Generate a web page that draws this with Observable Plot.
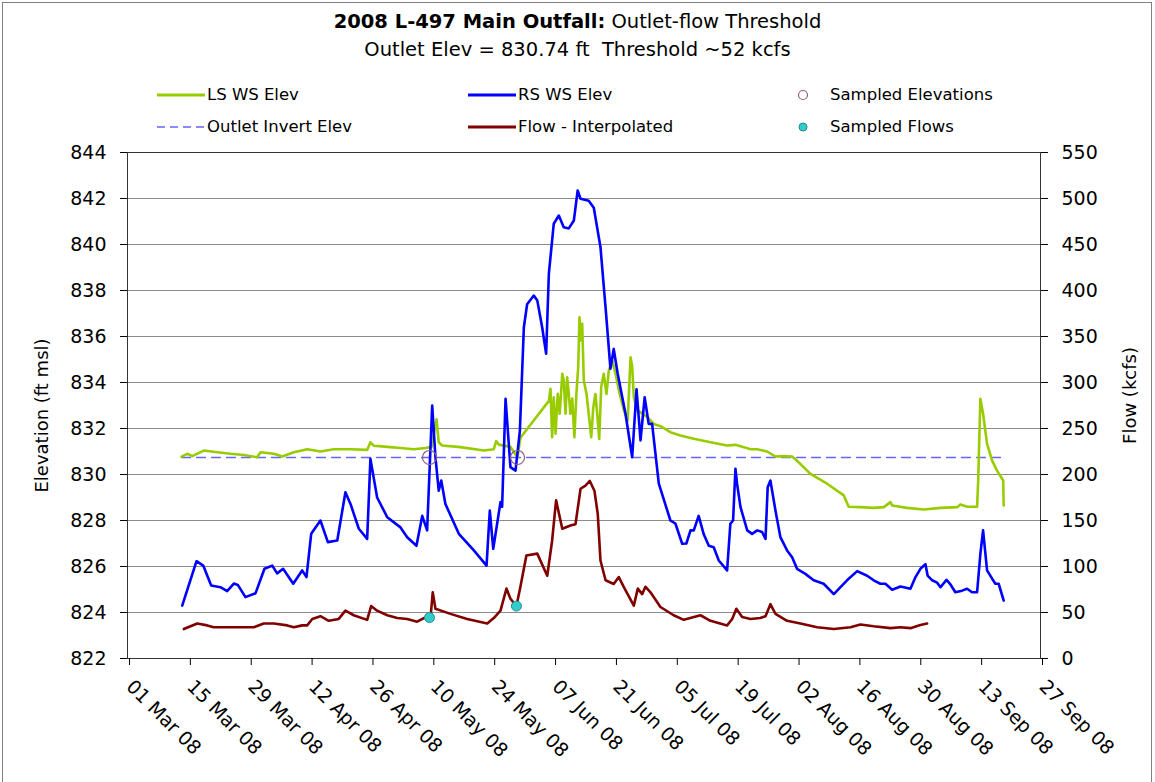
<!DOCTYPE html>
<html><head><meta charset="utf-8">
<script src="https://cdn.jsdelivr.net/npm/d3@7"></script>
<script src="https://cdn.jsdelivr.net/npm/@observablehq/plot@0.6"></script>
<style>
html,body{margin:0;padding:0;background:#fff;}
body{width:1155px;height:782px;position:relative;overflow:hidden;font-family:"DejaVu Sans",sans-serif;color:#000;}
#border{position:absolute;left:2px;top:2px;width:1150px;height:790px;border:1px solid #808080;box-sizing:border-box;}
#title{position:absolute;left:0;width:1155px;top:8px;text-align:center;font-size:19.5px;line-height:28px;}
.leg{position:absolute;font-size:16.5px;line-height:20px;height:20px;white-space:nowrap;}
.leg svg{position:absolute;left:0;top:0;}
.leg span{position:absolute;top:0;}
#chart{position:absolute;left:0;top:140px;}
</style></head>
<body>
<div id="border"></div>
<div id="title"><b>2008 L-497 Main Outfall:</b> Outlet-flow Threshold<br>Outlet Elev = 830.74 ft&nbsp; Threshold ~52 kcfs</div>
<div id="legend"></div>
<div id="chart"></div>
<script>
// ---- data ----
const yTicks = [822, 824, 826, 828, 830, 832, 834, 836, 838, 840, 842, 844];
const flowTicks = [0, 50, 100, 150, 200, 250, 300, 350, 400, 450, 500, 550];
const xTicks = ["03-01","03-15","03-29","04-12","04-26","05-10","05-24","06-07","06-21","07-05","07-19","08-02","08-16","08-30","09-13","09-27"];
const outletInvert = [["03-13 10",830.74],["09-18 13",830.74]];

const lsElev = [["03-13 10",830.78],["03-14 18",830.9],["03-15 21",830.8],["03-18 13",831.04],["03-21 15",830.97],["03-24 17",830.9],["03-27 18",830.85],["03-30 20",830.75],["03-31 14",830.97],["04-03 16",830.9],["04-05 14",830.78],["04-08 06",830.97],["04-11 08",831.1],["04-14 09",831.0],["04-17 11",831.1],["04-21 07",831.1],["04-25 03",831.07],["04-25 21",831.4],["04-26 16",831.25],["04-29 18",831.2],["05-02 19",831.15],["05-05 20",831.1],["05-08 13",831.15],["05-09 22",831.2],["05-11 02",832.4],["05-11 14",831.4],["05-12 09",831.26],["05-16 14",831.19],["05-21 23",831.04],["05-24 06",831.1],["05-24 19",831.45],["05-25 10",831.3],["05-28 02",831.2],["05-29 17",830.75],["05-30 09",831.6],["06-05 22",833.2],["06-06 07",833.73],["06-06 16",831.62],["06-07 01",833.36],["06-07 11",831.77],["06-07 23",833.51],["06-08 10",832.64],["06-09 00",834.38],["06-09 08",834.1],["06-09 18",832.64],["06-10 03",834.23],["06-10 12",833.5],["06-10 21",832.64],["06-11 07",833.3],["06-11 19",831.62],["06-12 06",833.5],["06-12 16",834.67],["06-12 23",836.84],["06-13 06",835.83],["06-13 14",836.55],["06-13 23",834.09],["06-14 14",833.5],["06-15 02",832.64],["06-15 16",831.62],["06-16 03",832.9],["06-16 15",833.5],["06-17 01",832.64],["06-17 12",831.55],["06-17 23",833.8],["06-18 13",834.38],["06-19 04",833.5],["06-19 17",834.52],["06-20 12",834.96],["06-21 06",834.38],["06-22 05",833.5],["06-23 04",832.8],["06-24 01",832.35],["06-24 17",835.1],["06-25 02",834.7],["06-25 11",833.36],["06-26 06",832.8],["06-27 00",832.7],["06-28 13",832.5],["06-30 01",832.2],["07-01 14",832.1],["07-03 21",831.84],["07-06 04",831.7],["07-09 06",831.55],["07-13 02",831.4],["07-16 22",831.26],["07-18 20",831.29],["07-20 18",831.19],["07-22 07",831.1],["07-23 20",831.1],["07-26 03",831.0],["07-28 01",830.78],["07-29 23",830.8],["07-31 21",830.78],["08-02 00",830.6],["08-05 02",830.03],["08-08 22",829.6],["08-12 18",829.09],["08-13 21",828.6],["08-16 14",828.58],["08-19 15",828.55],["08-21 23",828.58],["08-23 12",828.8],["08-23 21",828.65],["08-27 08",828.55],["08-31 03",828.48],["09-04 00",828.55],["09-07 20",828.58],["09-08 14",828.7],["09-10 03",828.6],["09-12 10",828.6],["09-12 16",829.74],["09-13 04",833.29],["09-13 19",832.64],["09-14 17",831.33],["09-15 21",830.6],["09-17 00",830.17],["09-18 10",829.74],["09-18 13",828.65]];

const rsElev = [["03-13 14",824.3],["03-16 21",826.23],["03-18 10",826.04],["03-20 06",825.17],["03-22 09",825.1],["03-23 22",824.93],["03-25 11",825.26],["03-26 09",825.2],["03-28 03",824.67],["03-30 11",824.84],["04-01 12",825.9],["04-03 07",826.04],["04-04 10",825.7],["04-05 19",825.9],["04-08 03",825.25],["04-10 04",825.83],["04-11 04",825.54],["04-12 06",827.42],["04-14 09",828.0],["04-16 02",827.06],["04-18 06",827.13],["04-20 03",829.23],["04-21 07",828.72],["04-23 05",827.64],["04-25 03",827.2],["04-25 21",830.68],["04-27 10",829.0],["04-29 18",828.14],["05-02 19",827.7],["05-04 08",827.27],["05-06 11",826.9],["05-07 19",828.2],["05-08 22",827.57],["05-10 02",833.0],["05-10 20",830.75],["05-11 14",829.3],["05-12 04",829.74],["05-13 03",828.72],["05-16 05",827.42],["05-19 16",826.7],["05-22 14",826.04],["05-23 08",828.43],["05-24 03",826.77],["05-25 19",828.8],["05-26 04",828.6],["05-26 23",833.29],["05-28 02",830.32],["05-29 06",830.17],["05-30 06",831.9],["05-31 04",836.4],["05-31 22",837.4],["06-02 11",837.78],["06-03 06",837.57],["06-04 09",836.4],["06-05 07",835.25],["06-05 22",838.73],["06-07 01",840.9],["06-08 05",841.26],["06-09 08",840.75],["06-10 12",840.7],["06-11 16",841.04],["06-12 13",842.35],["06-13 05",841.99],["06-15 02",841.9],["06-16 06",841.6],["06-17 19",839.88],["06-18 23",837.27],["06-20 02",834.6],["06-20 20",835.46],["06-21 18",834.38],["06-23 13",832.64],["06-25 02",830.75],["06-26 02",833.7],["06-27 00",831.48],["06-27 23",833.36],["06-28 21",832.2],["06-29 16",832.2],["07-01 05",829.6],["07-03 21",828.0],["07-05 01",827.86],["07-06 14",826.99],["07-07 13",827.0],["07-08 12",827.57],["07-09 06",827.57],["07-10 09",828.2],["07-11 13",827.4],["07-12 17",826.9],["07-13 20",826.84],["07-15 00",826.26],["07-16 22",825.83],["07-17 16",827.86],["07-18 07",828.0],["07-18 20",830.25],["07-19 05",829.6],["07-20 00",828.58],["07-21 13",827.57],["07-22 16",827.42],["07-23 20",827.57],["07-24 23",827.5],["07-25 18",827.2],["07-26 06",829.45],["07-26 21",829.74],["07-28 01",828.43],["07-29 04",827.28],["07-30 17",826.7],["07-31 21",826.4],["08-02 00",825.9],["08-03 22",825.68],["08-05 20",825.4],["08-08 03",825.25],["08-10 11",824.8],["08-12 00",825.1],["08-13 12",825.4],["08-15 20",825.8],["08-18 03",825.6],["08-19 15",825.4],["08-21 04",825.25],["08-22 08",825.25],["08-23 21",824.99],["08-25 19",825.13],["08-28 02",825.03],["08-29 06",825.54],["08-30 09",825.9],["08-31 13",826.1],["09-01 01",825.6],["09-02 02",825.4],["09-03 05",825.3],["09-04 00",825.1],["09-05 09",825.42],["09-06 07",825.22],["09-07 10",824.88],["09-08 23",824.95],["09-10 03",825.03],["09-11 06",824.88],["09-12 10",824.88],["09-13 04",826.55],["09-13 19",827.57],["09-14 17",825.83],["09-15 21",825.47],["09-16 15",825.25],["09-17 09",825.25],["09-18 13",824.52]];

const flowInterp = [["03-13 23",32],["03-17 01",38],["03-19 08",36],["03-20 20",34],["03-24 17",34],["03-30 01",34],["04-01 08",38],["04-03 16",38],["04-06 18",36],["04-08 06",34],["04-10 04",36],["04-11 08",36],["04-12 12",43],["04-14 09",46],["04-16 07",41],["04-18 14",43],["04-20 03",52],["04-22 01",47],["04-25 03",42],["04-26 01",57],["04-27 10",52],["04-29 18",47],["05-02 01",44],["05-04 08",43],["05-06 15",40],["05-08 04",44],["05-09 17",45],["05-10 05",72],["05-10 20",54],["05-14 07",48.5],["05-18 03",43],["05-22 18",38],["05-24 06",44],["05-25 19",52],["05-27 04",76],["05-28 02",65],["05-29 11",57],["05-30 09",78],["05-31 18",112],["06-03 06",114],["06-05 13",90],["06-06 16",128],["06-07 14",172],["06-09 00",141],["06-10 21",144.5],["06-12 01",146],["06-13 05",184.5],["06-14 08",188],["06-15 08",193],["06-16 10",182],["06-17 04",157],["06-17 19",106.5],["06-18 23",85],["06-20 20",81],["06-22 00",88.5],["06-23 04",77.5],["06-25 11",57.5],["06-26 09",76],["06-27 09",70],["06-28 03",78],["06-29 07",72],["07-01 14",56],["07-04 15",47],["07-06 23",42],["07-10 19",47],["07-13 02",41],["07-16 22",36],["07-18 02",43],["07-19 01",54],["07-20 09",45],["07-22 07",43],["07-24 14",44],["07-25 18",46],["07-26 21",59],["07-28 01",48.5],["07-30 17",41],["08-02 19",38],["08-06 15",34],["08-10 11",32],["08-14 07",34],["08-16 14",37],["08-19 15",35],["08-23 12",33],["08-25 19",34],["08-28 02",33],["08-30 09",36.5],["08-31 22",38]];

const sampledElevations = [["05-09 11",830.74],["05-29 17",830.74]];
const sampledFlows = [["05-09 11",44.5],["05-29 11",57]];

// ---- helpers ----
const parseT = d3.utcParse("%Y-%m-%d %H");
const parseD = d3.utcParse("%Y-%m-%d");
const T = s => parseT("2008-" + s);
const D = s => parseD("2008-" + s);
const flowToElev = (yTicks[yTicks.length-1] - yTicks[0]) / (flowTicks[flowTicks.length-1] - flowTicks[0]);
const flowY = f => yTicks[0] + (f - flowTicks[0]) * flowToElev;

const C = {ls:"#99CC00", rs:"#0000FF", flow:"#800000", invert:"#6666FF", sEl:"#8E5E84", sFl:"#33CCCC"};

// ---- legend ----
const legendItems = [
  {label:"LS WS Elev", type:"line", color:C.ls, x:157, y:85},
  {label:"RS WS Elev", type:"line", color:C.rs, x:468, y:85},
  {label:"Sampled Elevations", type:"circle", color:C.sEl, x:793, y:85},
  {label:"Outlet Invert Elev", type:"dash", color:C.invert, x:157, y:117},
  {label:"Flow - Interpolated", type:"line", color:C.flow, x:468, y:117},
  {label:"Sampled Flows", type:"dot", color:C.sFl, x:793, y:117}
];
const leg = document.getElementById("legend");
for (const it of legendItems) {
  const div = document.createElement("div");
  div.className = "leg";
  div.style.left = it.x + "px"; div.style.top = it.y + "px";
  let sw;
  if (it.type === "line") sw = `<line x1="0" x2="48" y1="10" y2="10" stroke="${it.color}" stroke-width="3"/>`;
  else if (it.type === "dash") sw = `<line x1="0" x2="48" y1="10" y2="10" stroke="${it.color}" stroke-width="1.3" stroke-dasharray="8,5"/>`;
  else if (it.type === "circle") sw = `<circle cx="10" cy="10" r="4.5" fill="none" stroke="${it.color}" stroke-width="1.2"/>`;
  else sw = `<circle cx="10" cy="10" r="4" fill="${it.color}" stroke="#1F8F8F" stroke-width="1"/>`;
  const tx = (it.type === "circle" || it.type === "dot") ? 37 : 50;
  div.innerHTML = `<svg width="50" height="20">${sw}</svg><span style="left:${tx}px">${it.label}</span>`;
  leg.appendChild(div);
}

// ---- chart ----
const chart = Plot.plot({
  width: 1155, height: 642,
  marginLeft: 127, marginRight: 115, marginTop: 12, marginBottom: 124,
  x: {type: "utc", domain: [D(xTicks[0]), D(xTicks[xTicks.length-1])]},
  y: {domain: [yTicks[0], yTicks[yTicks.length-1]]},
  style: {fontFamily: "DejaVu Sans, sans-serif", fontSize: "19px", color: "#000", background: "transparent", overflow: "visible"},
  marks: [
    Plot.gridY(yTicks, {stroke: "#8c8c8c", strokeOpacity: 1, strokeWidth: 1}),
    Plot.frame({stroke: "#333", strokeWidth: 1}),
    Plot.axisY(yTicks, {anchor: "left", tickSize: 7, tickPadding: 14, label: null, fontSize: 19}),
    Plot.axisY(yTicks, {anchor: "right", tickSize: 7, tickPadding: 14, label: null, fontSize: 19,
      tickFormat: d => String(flowTicks[yTicks.indexOf(d)])}),
    Plot.axisX(xTicks.map(D), {anchor: "bottom", tickSize: 7, tickPadding: 18, tickRotate: 45, label: null, fontSize: 19,
      textAnchor: "start", tickFormat: d3.utcFormat("%d %b %y"), dx: 2}),
    Plot.text(["Elevation (ft msl)"], {frameAnchor: "left", textAnchor: "middle", text: d => d, rotate: -90, dx: -85, dy: 10, fontSize: 18}),
    Plot.text(["Flow (kcfs)"], {frameAnchor: "right", textAnchor: "middle", text: d => d, rotate: -90, dx: 90, dy: -10, fontSize: 18}),
    Plot.line(outletInvert, {x: d => T(d[0]), y: d => d[1], stroke: C.invert, strokeWidth: 1.3, strokeDasharray: "9,6"}),
    Plot.line(lsElev, {x: d => T(d[0]), y: d => d[1], stroke: C.ls, strokeWidth: 2.6}),
    Plot.line(rsElev, {x: d => T(d[0]), y: d => d[1], stroke: C.rs, strokeWidth: 2.6}),
    Plot.line(flowInterp, {x: d => T(d[0]), y: d => flowY(d[1]), stroke: C.flow, strokeWidth: 2.6}),
    Plot.dot(sampledElevations, {x: d => T(d[0]), y: d => d[1], r: 7, stroke: C.sEl, strokeWidth: 1.2, fill: "none"}),
    Plot.dot(sampledFlows, {x: d => T(d[0]), y: d => flowY(d[1]), r: 5, fill: C.sFl, stroke: "#1F8F8F", strokeWidth: 1})
  ]
});
document.getElementById("chart").appendChild(chart);
</script>
</body></html>
